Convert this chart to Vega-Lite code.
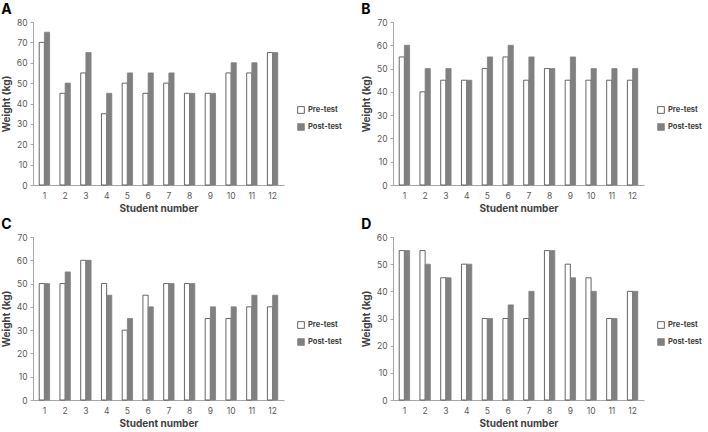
{
  "$schema": "https://vega.github.io/schema/vega-lite/v6.json",
  "padding": {"left": 1, "top": 3, "right": 0, "bottom": 0},
  "background": "white",
  "datasets": {
    "w": [
      {"panel": "A", "student": 1, "test": "Pre-test", "weight": 70},
      {"panel": "A", "student": 2, "test": "Pre-test", "weight": 45},
      {"panel": "A", "student": 3, "test": "Pre-test", "weight": 55},
      {"panel": "A", "student": 4, "test": "Pre-test", "weight": 35},
      {"panel": "A", "student": 5, "test": "Pre-test", "weight": 50},
      {"panel": "A", "student": 6, "test": "Pre-test", "weight": 45},
      {"panel": "A", "student": 7, "test": "Pre-test", "weight": 50},
      {"panel": "A", "student": 8, "test": "Pre-test", "weight": 45},
      {"panel": "A", "student": 9, "test": "Pre-test", "weight": 45},
      {"panel": "A", "student": 10, "test": "Pre-test", "weight": 55},
      {"panel": "A", "student": 11, "test": "Pre-test", "weight": 55},
      {"panel": "A", "student": 12, "test": "Pre-test", "weight": 65},
      {"panel": "A", "student": 1, "test": "Post-test", "weight": 75},
      {"panel": "A", "student": 2, "test": "Post-test", "weight": 50},
      {"panel": "A", "student": 3, "test": "Post-test", "weight": 65},
      {"panel": "A", "student": 4, "test": "Post-test", "weight": 45},
      {"panel": "A", "student": 5, "test": "Post-test", "weight": 55},
      {"panel": "A", "student": 6, "test": "Post-test", "weight": 55},
      {"panel": "A", "student": 7, "test": "Post-test", "weight": 55},
      {"panel": "A", "student": 8, "test": "Post-test", "weight": 45},
      {"panel": "A", "student": 9, "test": "Post-test", "weight": 45},
      {"panel": "A", "student": 10, "test": "Post-test", "weight": 60},
      {"panel": "A", "student": 11, "test": "Post-test", "weight": 60},
      {"panel": "A", "student": 12, "test": "Post-test", "weight": 65},
      {"panel": "B", "student": 1, "test": "Pre-test", "weight": 55},
      {"panel": "B", "student": 2, "test": "Pre-test", "weight": 40},
      {"panel": "B", "student": 3, "test": "Pre-test", "weight": 45},
      {"panel": "B", "student": 4, "test": "Pre-test", "weight": 45},
      {"panel": "B", "student": 5, "test": "Pre-test", "weight": 50},
      {"panel": "B", "student": 6, "test": "Pre-test", "weight": 55},
      {"panel": "B", "student": 7, "test": "Pre-test", "weight": 45},
      {"panel": "B", "student": 8, "test": "Pre-test", "weight": 50},
      {"panel": "B", "student": 9, "test": "Pre-test", "weight": 45},
      {"panel": "B", "student": 10, "test": "Pre-test", "weight": 45},
      {"panel": "B", "student": 11, "test": "Pre-test", "weight": 45},
      {"panel": "B", "student": 12, "test": "Pre-test", "weight": 45},
      {"panel": "B", "student": 1, "test": "Post-test", "weight": 60},
      {"panel": "B", "student": 2, "test": "Post-test", "weight": 50},
      {"panel": "B", "student": 3, "test": "Post-test", "weight": 50},
      {"panel": "B", "student": 4, "test": "Post-test", "weight": 45},
      {"panel": "B", "student": 5, "test": "Post-test", "weight": 55},
      {"panel": "B", "student": 6, "test": "Post-test", "weight": 60},
      {"panel": "B", "student": 7, "test": "Post-test", "weight": 55},
      {"panel": "B", "student": 8, "test": "Post-test", "weight": 50},
      {"panel": "B", "student": 9, "test": "Post-test", "weight": 55},
      {"panel": "B", "student": 10, "test": "Post-test", "weight": 50},
      {"panel": "B", "student": 11, "test": "Post-test", "weight": 50},
      {"panel": "B", "student": 12, "test": "Post-test", "weight": 50},
      {"panel": "C", "student": 1, "test": "Pre-test", "weight": 50},
      {"panel": "C", "student": 2, "test": "Pre-test", "weight": 50},
      {"panel": "C", "student": 3, "test": "Pre-test", "weight": 60},
      {"panel": "C", "student": 4, "test": "Pre-test", "weight": 50},
      {"panel": "C", "student": 5, "test": "Pre-test", "weight": 30},
      {"panel": "C", "student": 6, "test": "Pre-test", "weight": 45},
      {"panel": "C", "student": 7, "test": "Pre-test", "weight": 50},
      {"panel": "C", "student": 8, "test": "Pre-test", "weight": 50},
      {"panel": "C", "student": 9, "test": "Pre-test", "weight": 35},
      {"panel": "C", "student": 10, "test": "Pre-test", "weight": 35},
      {"panel": "C", "student": 11, "test": "Pre-test", "weight": 40},
      {"panel": "C", "student": 12, "test": "Pre-test", "weight": 40},
      {"panel": "C", "student": 1, "test": "Post-test", "weight": 50},
      {"panel": "C", "student": 2, "test": "Post-test", "weight": 55},
      {"panel": "C", "student": 3, "test": "Post-test", "weight": 60},
      {"panel": "C", "student": 4, "test": "Post-test", "weight": 45},
      {"panel": "C", "student": 5, "test": "Post-test", "weight": 35},
      {"panel": "C", "student": 6, "test": "Post-test", "weight": 40},
      {"panel": "C", "student": 7, "test": "Post-test", "weight": 50},
      {"panel": "C", "student": 8, "test": "Post-test", "weight": 50},
      {"panel": "C", "student": 9, "test": "Post-test", "weight": 40},
      {"panel": "C", "student": 10, "test": "Post-test", "weight": 40},
      {"panel": "C", "student": 11, "test": "Post-test", "weight": 45},
      {"panel": "C", "student": 12, "test": "Post-test", "weight": 45},
      {"panel": "D", "student": 1, "test": "Pre-test", "weight": 55},
      {"panel": "D", "student": 2, "test": "Pre-test", "weight": 55},
      {"panel": "D", "student": 3, "test": "Pre-test", "weight": 45},
      {"panel": "D", "student": 4, "test": "Pre-test", "weight": 50},
      {"panel": "D", "student": 5, "test": "Pre-test", "weight": 30},
      {"panel": "D", "student": 6, "test": "Pre-test", "weight": 30},
      {"panel": "D", "student": 7, "test": "Pre-test", "weight": 30},
      {"panel": "D", "student": 8, "test": "Pre-test", "weight": 55},
      {"panel": "D", "student": 9, "test": "Pre-test", "weight": 50},
      {"panel": "D", "student": 10, "test": "Pre-test", "weight": 45},
      {"panel": "D", "student": 11, "test": "Pre-test", "weight": 30},
      {"panel": "D", "student": 12, "test": "Pre-test", "weight": 40},
      {"panel": "D", "student": 1, "test": "Post-test", "weight": 55},
      {"panel": "D", "student": 2, "test": "Post-test", "weight": 50},
      {"panel": "D", "student": 3, "test": "Post-test", "weight": 45},
      {"panel": "D", "student": 4, "test": "Post-test", "weight": 50},
      {"panel": "D", "student": 5, "test": "Post-test", "weight": 30},
      {"panel": "D", "student": 6, "test": "Post-test", "weight": 35},
      {"panel": "D", "student": 7, "test": "Post-test", "weight": 40},
      {"panel": "D", "student": 8, "test": "Post-test", "weight": 55},
      {"panel": "D", "student": 9, "test": "Post-test", "weight": 45},
      {"panel": "D", "student": 10, "test": "Post-test", "weight": 40},
      {"panel": "D", "student": 11, "test": "Post-test", "weight": 30},
      {"panel": "D", "student": 12, "test": "Post-test", "weight": 40}
    ]
  },
  "config": {
    "font": "Inter",
    "view": {"stroke": null},
    "axis": {
      "grid": false,
      "domainColor": "#a6a6a6",
      "tickColor": "#a6a6a6",
      "labelColor": "#595959",
      "labelFontSize": 8.5,
      "labelFontWeight": "normal",
      "titleColor": "#404040",
      "titleFontSize": 10,
      "titleFontWeight": "bold"
    },
    "axisX": {"ticks": false, "labelAngle": 0, "labelPadding": 6, "titlePadding": 4},
    "axisY": {"tickSize": 3, "labelPadding": 3, "titlePadding": 5},
    "legend": {
      "orient": "none",
      "legendX": 264,
      "legendY": 84,
      "symbolType": "square",
      "symbolSize": 45,
      "symbolStrokeWidth": 0.8,
      "labelFontSize": 7.5,
      "labelFontWeight": "bold",
      "labelColor": "#404040",
      "labelOffset": 3,
      "rowPadding": 7,
      "title": null
    },
    "title": {
      "fontSize": 14,
      "fontWeight": "bold",
      "color": "#000000",
      "anchor": "start",
      "frame": "bounds",
      "offset": 1
    }
  },
  "columns": 2,
  "spacing": {"column": 19, "row": 4},
  "resolve": {
    "scale": {"x": "independent", "y": "independent", "fill": "independent", "stroke": "independent"},
    "legend": {"fill": "independent", "stroke": "independent"}
  },
  "concat": [
    {
      "title": "A",
      "width": 251, "height": 163,
      "data": {"name": "w"},
      "transform": [{"filter": "datum.panel === 'A'"}],
      "mark": {"type": "bar", "strokeWidth": 0.8},
      "encoding": {
        "x": {"field": "student", "type": "ordinal", "title": "Student number", "scale": {"paddingInner": 0.5, "paddingOuter": 0.3}},
        "xOffset": {"field": "test", "type": "nominal", "sort": ["Pre-test", "Post-test"], "scale": {"paddingInner": 0}},
        "y": {"field": "weight", "type": "quantitative", "title": "Weight (kg)", "scale": {"domain": [0, 80]}, "axis": {"values": [0, 10, 20, 30, 40, 50, 60, 70, 80]}},
        "fill": {"field": "test", "type": "nominal", "scale": {"domain": ["Pre-test", "Post-test"], "range": ["#ffffff", "#808080"]}, "legend": {}},
        "stroke": {"field": "test", "type": "nominal", "scale": {"domain": ["Pre-test", "Post-test"], "range": ["#404040", "#808080"]}, "legend": {}}
      }
    },
    {
      "title": "B",
      "width": 251, "height": 163,
      "data": {"name": "w"},
      "transform": [{"filter": "datum.panel === 'B'"}],
      "mark": {"type": "bar", "strokeWidth": 0.8},
      "encoding": {
        "x": {"field": "student", "type": "ordinal", "title": "Student number", "scale": {"paddingInner": 0.5, "paddingOuter": 0.3}},
        "xOffset": {"field": "test", "type": "nominal", "sort": ["Pre-test", "Post-test"], "scale": {"paddingInner": 0}},
        "y": {"field": "weight", "type": "quantitative", "title": "Weight (kg)", "scale": {"domain": [0, 70]}, "axis": {"values": [0, 10, 20, 30, 40, 50, 60, 70]}},
        "fill": {"field": "test", "type": "nominal", "scale": {"domain": ["Pre-test", "Post-test"], "range": ["#ffffff", "#808080"]}, "legend": {}},
        "stroke": {"field": "test", "type": "nominal", "scale": {"domain": ["Pre-test", "Post-test"], "range": ["#404040", "#808080"]}, "legend": {}}
      }
    },
    {
      "title": "C",
      "width": 251, "height": 163,
      "data": {"name": "w"},
      "transform": [{"filter": "datum.panel === 'C'"}],
      "mark": {"type": "bar", "strokeWidth": 0.8},
      "encoding": {
        "x": {"field": "student", "type": "ordinal", "title": "Student number", "scale": {"paddingInner": 0.5, "paddingOuter": 0.3}},
        "xOffset": {"field": "test", "type": "nominal", "sort": ["Pre-test", "Post-test"], "scale": {"paddingInner": 0}},
        "y": {"field": "weight", "type": "quantitative", "title": "Weight (kg)", "scale": {"domain": [0, 70]}, "axis": {"values": [0, 10, 20, 30, 40, 50, 60, 70]}},
        "fill": {"field": "test", "type": "nominal", "scale": {"domain": ["Pre-test", "Post-test"], "range": ["#ffffff", "#808080"]}, "legend": {}},
        "stroke": {"field": "test", "type": "nominal", "scale": {"domain": ["Pre-test", "Post-test"], "range": ["#404040", "#808080"]}, "legend": {}}
      }
    },
    {
      "title": "D",
      "width": 251, "height": 163,
      "data": {"name": "w"},
      "transform": [{"filter": "datum.panel === 'D'"}],
      "mark": {"type": "bar", "strokeWidth": 0.8},
      "encoding": {
        "x": {"field": "student", "type": "ordinal", "title": "Student number", "scale": {"paddingInner": 0.5, "paddingOuter": 0.3}},
        "xOffset": {"field": "test", "type": "nominal", "sort": ["Pre-test", "Post-test"], "scale": {"paddingInner": 0}},
        "y": {"field": "weight", "type": "quantitative", "title": "Weight (kg)", "scale": {"domain": [0, 60]}, "axis": {"values": [0, 10, 20, 30, 40, 50, 60]}},
        "fill": {"field": "test", "type": "nominal", "scale": {"domain": ["Pre-test", "Post-test"], "range": ["#ffffff", "#808080"]}, "legend": {}},
        "stroke": {"field": "test", "type": "nominal", "scale": {"domain": ["Pre-test", "Post-test"], "range": ["#404040", "#808080"]}, "legend": {}}
      }
    }
  ]
}
